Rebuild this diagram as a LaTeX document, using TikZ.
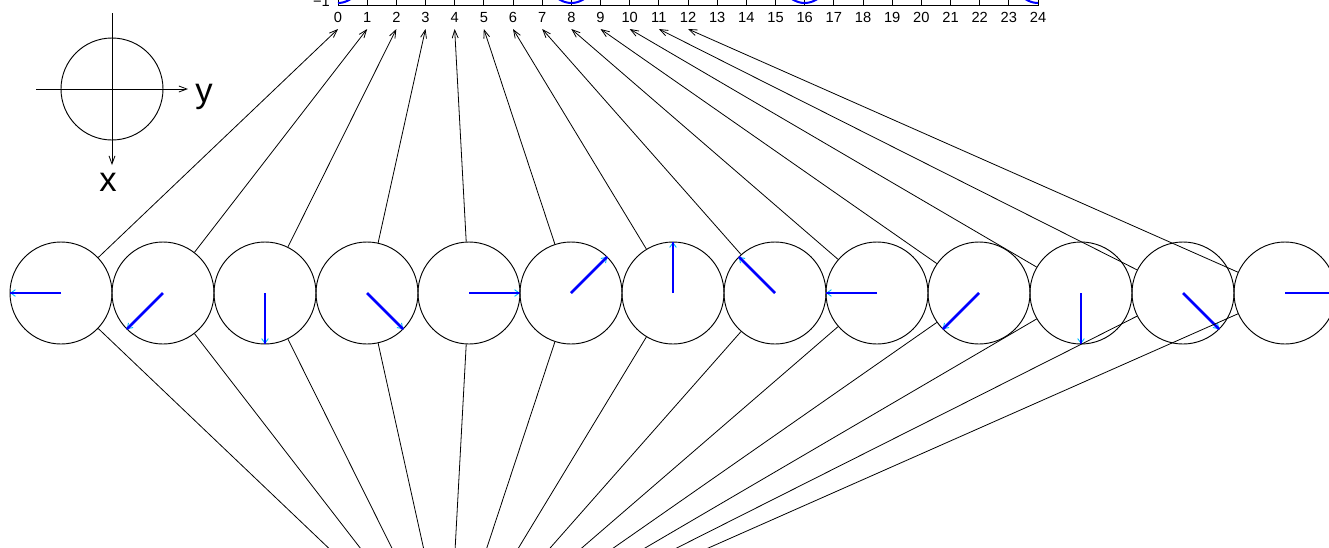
\documentclass[tikz,border=0pt]{standalone}
\usepackage{fontspec}
\setmainfont{Liberation Sans}
\usetikzlibrary{arrows.meta}
\definecolor{headc}{RGB}{0,190,255}
\begin{document}
\begin{tikzpicture}[x=0.75pt,y=-0.75pt,
  circ/.style={circle,draw,line width=0.7pt,inner sep=0pt,minimum size=76.5pt},
  conn/.style={line width=0.6pt},
  arr/.style={conn,-{Straight Barb[length=6pt,width=4.5pt]}},
  ticklab/.style={font=\fontsize{11}{13}\selectfont,inner sep=0pt,anchor=base},
  axlab/.style={font=\fontsize{26}{30}\selectfont,inner sep=0pt}]
\useasboundingbox (0,0) rectangle (1329,547);
\clip (0,0) rectangle (1329,547);
% top plot (partially visible)
\draw[line width=0.6pt] (338,-3) -- (338,5) -- (1038,5) -- (1038,-3);
\foreach \k in {0,...,24}{
  \draw[line width=0.6pt] ({338+29.1667*\k},5) -- ({338+29.1667*\k},-3);
  \node[ticklab] (l\k) at ({338+29.1667*\k},22) {\k};
}
\node[font=\fontsize{11}{13}\selectfont,inner sep=0pt,anchor=mid east] (lm) at (330,3) {−1};
\draw[blue,line width=1.5pt,domain=0:24,samples=300] plot ({338+29.1667*\x},{3-68*(1-cos(45*\x))});
% legend
\node[circ] (lg) at (112,89) {};
\coordinate (ya) at (36,89);
\coordinate (yb) at (188,89);
\coordinate (xa) at (112,13);
\coordinate (xb) at (112,165);
\draw[arr] (ya) -- (yb);
\draw[arr] (xa) -- (xb);
\node[axlab,anchor=base west] (ly) at (195,102) {y};
\node[axlab,anchor=base] (lx) at (108,191) {x};
% circles
\foreach \k in {0,...,12}{
  \pgfmathsetmacro{\cx}{61+102*\k}
  \pgfmathsetmacro{\a}{180+45*\k}
  \node[circ] (c\k) at (\cx,293) {};
  \coordinate (e\k) at ({\cx+51*cos(\a)},{293-51*sin(\a)});
  \coordinate (m\k) at ({\cx+42*cos(\a)},{293-42*sin(\a)});
  \coordinate (t\k) at ({338+29.1667*\k},29);
  \coordinate (b\k) at ({338+29.1667*\k},557);
  \draw[arr] (c\k) -- (t\k);
  \draw[conn] (c\k) -- (b\k);
  \draw[headc,line width=0.7pt,-{Straight Barb[length=3.5pt,width=5pt]}] (m\k) -- (e\k);
  \draw[blue,line width=1.9pt] (c\k.center) -- (e\k);
}
\end{tikzpicture}
\end{document}
